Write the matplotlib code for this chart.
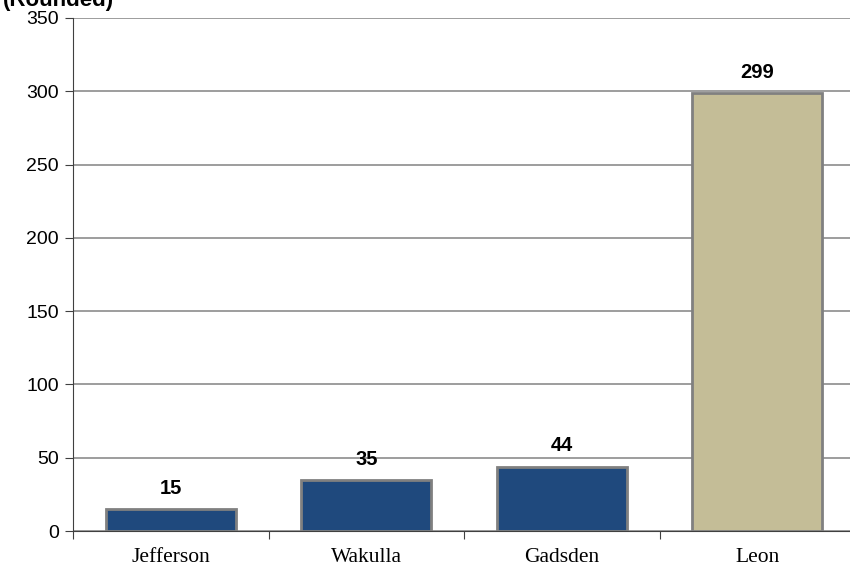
import matplotlib
matplotlib.use("Agg")
import matplotlib.pyplot as plt
import numpy as np

categories = ["Jefferson", "Wakulla", "Gadsden", "Leon"]
values = [15, 35, 44, 299]
bar_colors = ["#1F497D", "#1F497D", "#1F497D", "#C4BD97"]
yticks = [0, 50, 100, 150, 200, 250, 300, 350]

fig = plt.figure(figsize=(8.5, 5.69), dpi=100)
ax = fig.add_axes([73/850, 38/569, 782/850, 513/569])

x = np.arange(len(categories))
ax.bar(x, values, width=0.665, color=bar_colors, edgecolor="#808080", linewidth=2, zorder=3)

for xi, v in zip(x, values):
    ax.annotate(str(v), (xi, v), xytext=(0, 8), textcoords="offset points",
                ha="center", va="bottom", fontsize=14.5, fontweight="bold",
                family="Liberation Sans", color="black")

ax.set_xlim(-0.5, len(categories) - 0.5)
ax.set_ylim(0, 350)
ax.set_yticks(yticks)
ax.set_yticklabels([str(t) for t in yticks], family="Liberation Sans", fontsize=14)
ax.yaxis.grid(True, color="#8C8C8C", linewidth=1.2, zorder=0)
ax.set_axisbelow(True)

ax.set_xticks(np.arange(-0.5, len(categories) - 0.5, 1.0))
ax.set_xticklabels([])
ax.set_xticks(x, minor=True)
ax.set_xticklabels(categories, minor=True, family="Liberation Serif", fontsize=15.5)
ax.tick_params(axis="x", which="minor", length=0, pad=12)
ax.tick_params(axis="x", which="major", length=6, direction="out", color="#404040")
ax.tick_params(axis="y", length=6, direction="out", color="#404040", pad=4)

for s in ["top", "right"]:
    ax.spines[s].set_visible(False)
ax.spines["left"].set_color("#404040")
ax.spines["bottom"].set_color("#404040")

fig.text(0.003, 1 - 6/569, "(Rounded)", ha="left", va="baseline", fontsize=16,
         fontweight="bold", family="Liberation Sans")

fig.savefig("out.png", dpi=100)
